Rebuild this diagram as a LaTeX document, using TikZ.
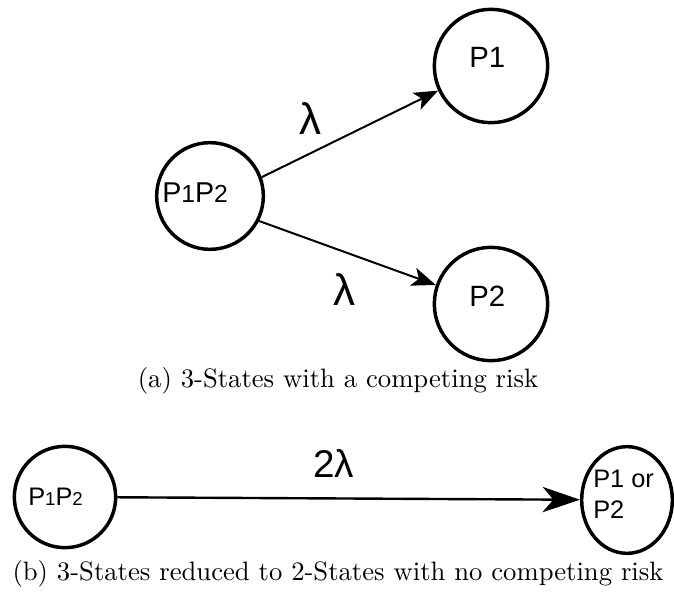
\documentclass[tikz,border=0pt]{standalone}
\usepackage{fontspec}
\newfontfamily\arialf{Liberation Sans}
\usetikzlibrary{arrows.meta,shapes.geometric}
\begin{document}
\begin{tikzpicture}[x=0.75pt,y=-0.75pt,
  state/.style={circle,draw=black,line width=2.6pt,inner sep=0pt},
  txt/.style={font=\arialf,inner sep=0pt,anchor=base west},
  rate/.style={font=\arialf\fontsize{33}{36}\selectfont,inner sep=0pt,anchor=base west},
  flow/.style={line width=1.5pt,-{Stealth[length=18pt,width=14pt,inset=4.5pt]}},
  longflow/.style={line width=1.8pt,-{Stealth[length=28pt,width=19pt,inset=8pt]}},
  capt/.style={inner sep=0pt,anchor=base,scale=2.0}]
\useasboundingbox (0,0) rectangle (674,595);

% (a) three states with a competing risk
\node[state,minimum size=80pt] (pp) at (210,196) {};
\node[state,minimum size=85pt] (p1) at (491,66) {};
\node[state,minimum size=85pt] (p2) at (491,304) {};

\node[txt,font=\arialf\fontsize{21.5}{25}\selectfont] (pptext) at (162,203)
  {P{\fontsize{18.5}{20}\selectfont 1}P{\fontsize{18.5}{20}\selectfont 2}};
\node[txt,font=\arialf\fontsize{22}{26}\selectfont] (p1text) at (469,68) {P1};
\node[txt,font=\arialf\fontsize{22}{26}\selectfont] (p2text) at (469,306) {P2};

\draw[flow] (pp.20) -- (p1.205);
\draw[flow] (pp.333) -- (p2.161);
\node[rate] (lamup) at (299,135) {λ};
\node[rate] (lamdown) at (333,305) {λ};

\node[capt] (capa) at (338,387) {(a) 3-States with a competing risk};

% (b) reduced to two states
\node[state,minimum size=76pt] (qa) at (65,497) {};
\node[ellipse,draw=black,line width=2.6pt,inner sep=0pt,
      minimum width=68pt,minimum height=80pt] (qb) at (627,500) {};

\node[txt,font=\arialf\fontsize{19}{22}\selectfont] (qatext) at (28,505)
  {P{\fontsize{14}{16}\selectfont 1}P{\fontsize{14}{16}\selectfont 2}};
\node[txt,font=\arialf\fontsize{19}{22}\selectfont] (qbtexta) at (593,487) {P1 or};
\node[txt,font=\arialf\fontsize{19}{22}\selectfont] (qbtextb) at (593,518) {P2};

\draw[longflow] (qa) -- (qb);
\node[rate,font=\arialf\fontsize{29}{32}\selectfont] (lamtwo) at (313,477) {2λ};

\node[capt] (capb) at (338,580) {(b) 3-States reduced to 2-States with no competing risk};
\end{tikzpicture}
\end{document}
